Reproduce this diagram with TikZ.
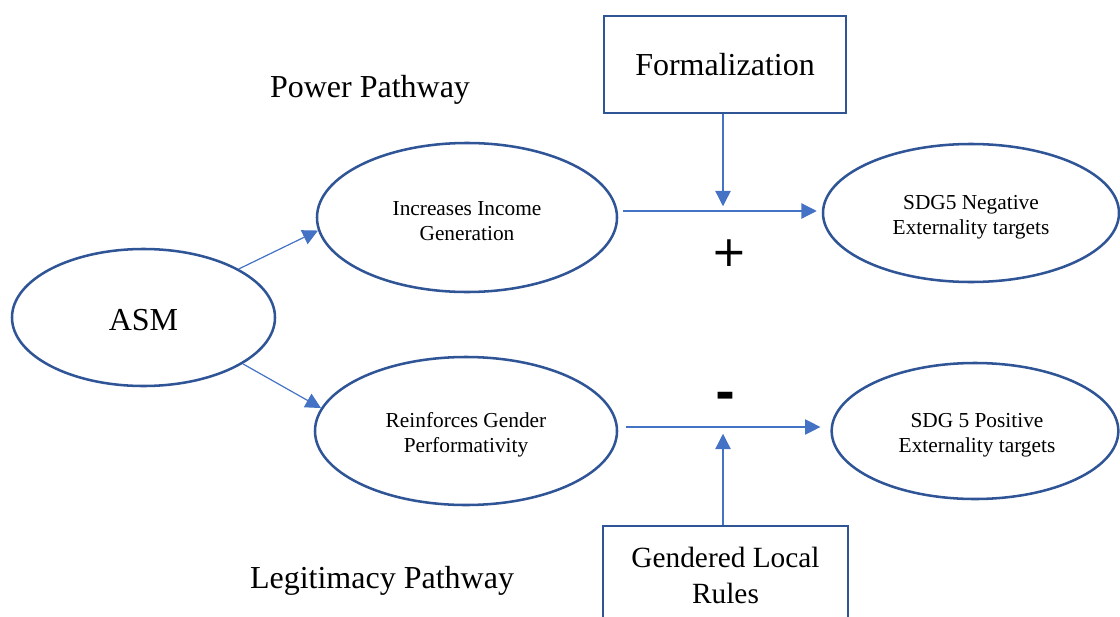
\documentclass[tikz,border=0pt]{standalone}
\usepackage{fontspec}
\setmainfont{Liberation Serif}
\newfontfamily\signfont{DejaVu Sans}
\usetikzlibrary{shapes.geometric,arrows.meta}
\definecolor{edgeblue}{HTML}{2F5597}
\definecolor{arrowblue}{HTML}{4472C4}
\tikzset{
  oval/.style={ellipse,draw=edgeblue,line width=1.9pt,inner sep=0pt},
  bigtext/.style={font=\fontsize{24}{28}\selectfont},
  smalltext/.style={font=\fontsize{16}{18.75}\selectfont,align=center,inner sep=0pt},
  modbox/.style={rectangle,draw=edgeblue,line width=1.9pt,inner sep=0pt,align=center},
  arr/.style={draw=arrowblue,line width=0.9pt,-{Triangle[length=11.5pt,width=11.5pt]},arrowblue}
}
\begin{document}
\begin{tikzpicture}[x=0.75pt,y=-0.75pt]
\useasboundingbox (0,0) rectangle (1120,617);
\clip (0,0) rectangle (1120,617);
% ellipses
\node[oval,minimum width=197.25pt,minimum height=102.75pt] (asm) at (143.5,317.5) {};
\node[bigtext] (asm-t) at (143.5,320) {ASM};
\node[oval,minimum width=225pt,minimum height=111.75pt] (inc) at (467,217.5) {};
\node[smalltext] (inc-t) at (467,221) {Increases Income\\Generation};
\node[oval,minimum width=226.5pt,minimum height=111pt] (rein) at (466,431) {};
\node[smalltext] (rein-t) at (466,434.5) {Reinforces Gender\\Performativity};
\node[oval,minimum width=222pt,minimum height=103.5pt] (neg) at (971,213) {};
\node[smalltext] (neg-t) at (971,217) {SDG5 Negative\\Externality targets};
\node[oval,minimum width=215pt,minimum height=102pt] (pos) at (975,431) {};
\node[smalltext] (pos-t) at (977,435) {SDG 5 Positive\\Externality targets};
% boxes
\node[modbox,bigtext,minimum width=181.5pt,minimum height=72.75pt] (formal) at (725,64.5) {\raisebox{-2pt}{Formalization}};
\node[modbox,font=\fontsize{22}{27}\selectfont,minimum width=183.75pt,minimum height=73.5pt] (rules) at (725.5,575) {Gendered Local\\Rules};
% labels
\node[bigtext] (power) at (370,90) {Power Pathway};
\node[bigtext] (legit) at (382,581) {Legitimacy Pathway};
\node[font=\signfont\fontsize{32}{36}\selectfont,inner sep=0pt] (plus) at (729,253) {+};
\node[font=\signfont\bfseries\fontsize{36}{40}\selectfont,inner sep=0pt] (minus) at (725,401) {-};
% connectors
\draw[arr] (asm.27) -- (inc.185);
\draw[arr] (asm.-25) -- (rein.171);
\draw[arr] ([shift={(5,-6.5)}]inc.east) -- ([shift={(-5,-2)}]neg.west);
\draw[arr] ([shift={(8,-4)}]rein.east) -- ([shift={(-10,-4)}]pos.west);
\draw[arr] ([shift={(-2,0)}]formal.south) -- ++(0,92);
\draw[arr] ([shift={(-2.5,0)}]rules.north) -- ++(0,-91);
\end{tikzpicture}
\end{document}
